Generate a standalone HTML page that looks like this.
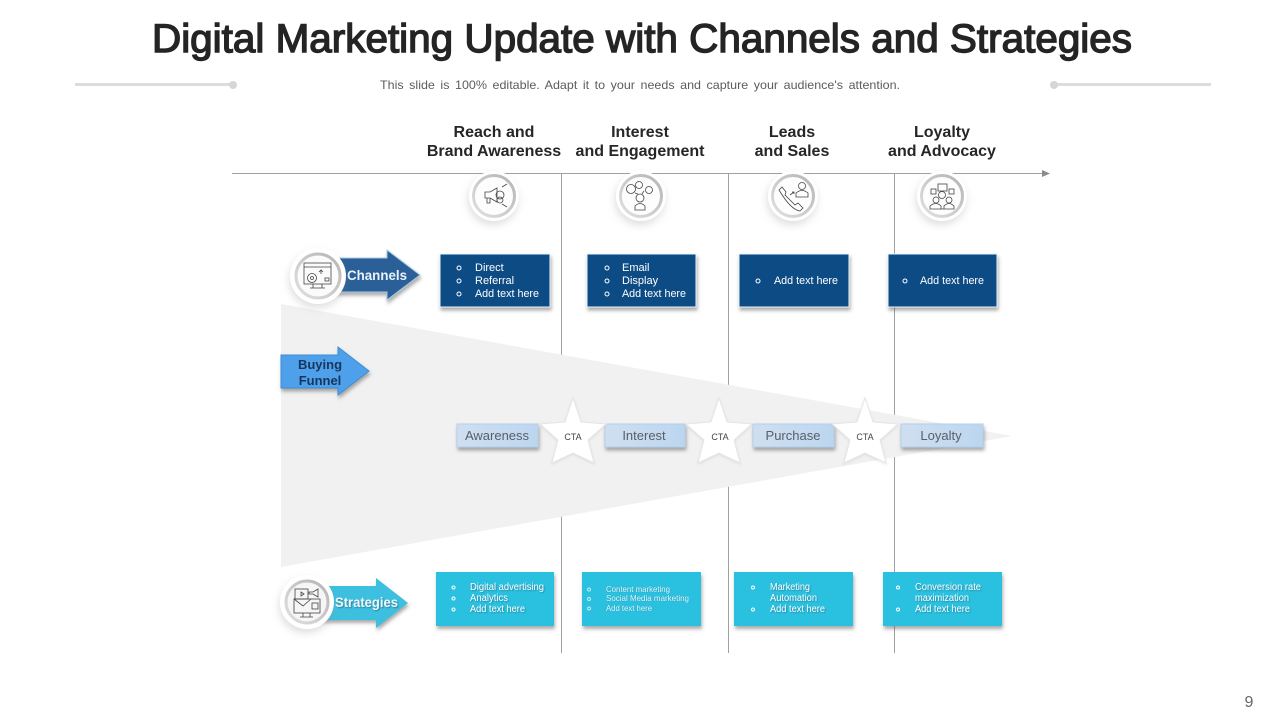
<!DOCTYPE html>
<html><head><meta charset="utf-8"><style>
html,body{margin:0;padding:0;background:#fff}
svg{display:block}
text{font-family:"Liberation Sans",sans-serif}
.h{font-size:16px;font-weight:bold;fill:#262626;text-anchor:middle}
.w{font-size:11px;fill:#fff}
.c{font-size:10px;fill:#fff;filter:drop-shadow(1px 1px 0.6px rgba(40,70,90,.45))}
.s{font-size:8.5px;fill:#e3f6fb;filter:drop-shadow(.6px .6px .5px rgba(40,70,90,.35))}
.l{font-size:13px;fill:#5a5f66;text-anchor:middle}
.cta{font-size:9px;fill:#444;text-anchor:middle}
.i{fill:none;stroke:#444;stroke-width:.8}
</style></head><body>
<svg width="1280" height="720" viewBox="0 0 1280 720" xmlns="http://www.w3.org/2000/svg">
<defs>
<filter id="sh" x="-20%" y="-20%" width="140%" height="150%"><feDropShadow dx="1" dy="3" stdDeviation="1.800" flood-color="#555" flood-opacity=".5"/></filter>
<filter id="cs" x="-40%" y="-40%" width="180%" height="190%"><feDropShadow dx="-1" dy="4" stdDeviation="4" flood-color="#888" flood-opacity=".28"/></filter>
<filter id="ss" x="-20%" y="-20%" width="140%" height="140%"><feDropShadow dx="0" dy="1" stdDeviation="1.200" flood-color="#aaa" flood-opacity=".3"/></filter>
<linearGradient id="lb" x1="0" y1="0" x2="1" y2="0"><stop offset="0" stop-color="#cfdff0"/><stop offset="1" stop-color="#bcd6f0"/></linearGradient>
<linearGradient id="rg" x1="1" y1="0" x2="0" y2="1"><stop offset="0" stop-color="#b5b5b5"/><stop offset="1" stop-color="#e0e0e0"/></linearGradient>
<polygon id="star" points="0,-36 8,-12 33,-10 15,6 21,29 0,19 -21,29 -15,6 -33,-10 -8,-12"/>
</defs>

<text x="642" y="52" font-size="40" fill="#242424" stroke="#242424" stroke-width="1.400" text-anchor="middle" textLength="980" lengthAdjust="spacingAndGlyphs">Digital Marketing Update with Channels and Strategies</text>
<text x="640" y="89" font-size="12" fill="#5c5c5c" text-anchor="middle" word-spacing="2" textLength="520" lengthAdjust="spacingAndGlyphs">This slide is 100% editable. Adapt it to your needs and capture your audience's attention.</text>
<rect x="75" y="83" width="158" height="3" fill="#dcdcdc"/><circle cx="233" cy="85" r="4" fill="#d6d6d6"/>
<rect x="1054" y="83" width="157" height="3" fill="#dcdcdc"/><circle cx="1054" cy="85" r="4" fill="#d6d6d6"/>

<text class="h" x="494" y="137">Reach and</text><text class="h" x="494" y="156">Brand Awareness</text>
<text class="h" x="640" y="137">Interest</text><text class="h" x="640" y="156">and Engagement</text>
<text class="h" x="792" y="137">Leads</text><text class="h" x="792" y="156">and Sales</text>
<text class="h" x="942" y="137">Loyalty</text><text class="h" x="942" y="156">and Advocacy</text>

<line x1="232" y1="173.500" x2="1044" y2="173.500" stroke="#a0a0a0" stroke-width="1"/>
<polygon points="1042,170 1050,173.500 1042,177" fill="#8c8c8c"/>
<g stroke="#a0a0a0" stroke-width="1"><line x1="561.500" y1="173" x2="561.500" y2="653"/><line x1="728.500" y1="173" x2="728.500" y2="653"/><line x1="894.500" y1="173" x2="894.500" y2="653"/></g>

<polygon points="281,304 1012,436 281,567" fill="#f1f1f1"/>

<!-- Top circles -->
<g transform="translate(494,196)"><circle r="25" fill="#fff" filter="url(#cs)"/><circle r="20.500" fill="#fdfdfd" stroke="url(#rg)" stroke-width="3"/>
<g class="i"><path d="M-9,-4 L-4,-4 L3,-8 L3,6 L-4,2 L-9,2Z M-7,2 L-7,7 L-4,7 L-4,2"/><circle cx="6" cy="-1" r="4"/><circle cx="6" cy="4" r="3"/><path d="M8,-9 L13,-12 M8,8 L13,11"/></g></g>
<g transform="translate(641,196)"><circle r="25" fill="#fff" filter="url(#cs)"/><circle r="20.500" fill="#fdfdfd" stroke="url(#rg)" stroke-width="3"/>
<g class="i"><circle cx="-10" cy="-7" r="4.500"/><circle cx="-2" cy="-11" r="3.500"/><circle cx="8" cy="-6" r="3.500"/><circle cx="-1" cy="2" r="4"/><path d="M-6,14 L-6,10 Q-1,5 4,10 L4,14Z"/><path d="M-6,-3 L-3,-2 M3,-5 L1,-2"/></g></g>
<g transform="translate(793,196)"><circle r="25" fill="#fff" filter="url(#cs)"/><circle r="20.500" fill="#fdfdfd" stroke="url(#rg)" stroke-width="3"/>
<g class="i"><path d="M-14,-6 L-11,-9 L-7,-4 L-8,-1 L2,9 L5,7 L10,12 L7,15 Q-2,14 -14,-6Z"/><circle cx="9" cy="-10" r="3.500"/><path d="M3,1 L3,-3 Q9,-8 15,-3 L15,1Z"/><path d="M-3,-1 L1,-4 M-1,-4 L1,-4 L1,-2"/></g></g>
<g transform="translate(942,196)"><circle r="25" fill="#fff" filter="url(#cs)"/><circle r="20.500" fill="#fdfdfd" stroke="url(#rg)" stroke-width="3"/>
<g class="i"><rect x="-11" y="-7" width="5" height="5"/><rect x="7" y="-7" width="5" height="5"/><rect x="-4" y="-12" width="9" height="7"/><circle cx="0" cy="-1" r="3.500"/><circle cx="-6" cy="4" r="3"/><circle cx="7" cy="4" r="3"/><path d="M-12,13 L-12,10 Q-6,5 -1,10 L-1,13Z M2,13 L2,10 Q7,5 12,10 L12,13Z M-12,13 L12,13"/></g></g>

<!-- Channels -->
<polygon points="325,258 387,258 387,250 420,275 387,300 387,292 325,292" fill="#2b6097" stroke="#a9cbe6" stroke-width="1" filter="url(#sh)"/>
<text x="347" y="280" font-size="13.500" font-weight="bold" fill="#eaf2f9" textLength="60" lengthAdjust="spacingAndGlyphs">Channels</text>
<g transform="translate(318,276)"><circle r="28" fill="#fff" filter="url(#cs)"/><circle r="22" fill="#fbfbfb" stroke="url(#rg)" stroke-width="3"/>
<g class="i"><rect x="-14" y="-13" width="27" height="21"/><path d="M-14,-9 L13,-9 M-5,8 L-5,12 M4,8 L4,12 M-8,12 L7,12"/><circle cx="-6" cy="2" r="4.500"/><circle cx="-6" cy="2" r="1.500"/><path d="M3,-2 L3,-6 M1,-4 L3,-6 L5,-4"/><rect x="7" y="2" width="4" height="3"/></g></g>

<!-- Channel boxes -->
<g filter="url(#sh)" fill="#0f4c85" stroke="#e8f4fb" stroke-width="1"><rect x="440" y="254" width="110" height="53"/><rect x="587" y="254" width="109" height="53"/><rect x="739" y="254" width="110" height="53"/><rect x="888" y="254" width="109" height="53"/></g>
<g fill="none" stroke="#fff" stroke-width="1">
<circle cx="459" cy="268" r="2"/><circle cx="459" cy="281" r="2"/><circle cx="459" cy="294" r="2"/>
<circle cx="607" cy="268" r="2"/><circle cx="607" cy="281" r="2"/><circle cx="607" cy="294" r="2"/>
<circle cx="758" cy="281" r="2"/><circle cx="905" cy="281" r="2"/>
</g>
<text class="w" x="475" y="271">Direct</text><text class="w" x="475" y="284">Referral</text><text class="w" x="475" y="297" textLength="64" lengthAdjust="spacingAndGlyphs">Add text here</text>
<text class="w" x="622" y="271">Email</text><text class="w" x="622" y="284">Display</text><text class="w" x="622" y="297" textLength="64" lengthAdjust="spacingAndGlyphs">Add text here</text>
<text class="w" x="774" y="284" textLength="64" lengthAdjust="spacingAndGlyphs">Add text here</text>
<text class="w" x="920" y="284" textLength="64" lengthAdjust="spacingAndGlyphs">Add text here</text>

<!-- Buying Funnel -->
<polygon points="281,355 338,355 338,347 369,371 338,395 338,388 281,388" fill="#50a0ea" stroke="#3f8cd4" stroke-width="1" filter="url(#sh)"/>
<text x="320" y="369" font-size="13" font-weight="bold" fill="#17365d" text-anchor="middle">Buying</text>
<text x="320" y="385" font-size="13" font-weight="bold" fill="#17365d" text-anchor="middle">Funnel</text>

<!-- Stage labels -->
<g filter="url(#sh)" fill="url(#lb)" stroke="#b4d0ec" stroke-width="1"><rect x="457" y="424" width="81" height="23"/><rect x="605" y="424" width="80" height="23"/><rect x="753" y="424" width="81" height="23"/><rect x="901" y="424" width="82" height="23"/></g>
<text class="l" x="497" y="440">Awareness</text><text class="l" x="644" y="440">Interest</text><text class="l" x="793" y="440">Purchase</text><text class="l" x="941" y="440">Loyalty</text>

<!-- Stars -->
<g fill="#fff" stroke="#e6e6e6" stroke-width="1" filter="url(#ss)">
<use href="#star" x="573" y="434"/><use href="#star" x="719" y="434"/><use href="#star" x="865" y="434"/>
</g>
<text class="cta" x="573" y="440">CTA</text><text class="cta" x="720" y="440">CTA</text><text class="cta" x="865" y="440">CTA</text>

<!-- Strategies -->
<polygon points="320,586 376,586 376,578 408,603 376,628 376,620 320,620" fill="#3dbfe0" filter="url(#sh)"/>
<text x="335" y="607" font-size="13.500" font-weight="bold" fill="#eefafd" textLength="63" lengthAdjust="spacingAndGlyphs" style="filter:drop-shadow(1px 1px .6px rgba(40,70,90,.5))">Strategies</text>
<g transform="translate(307,602)"><circle r="27" fill="#fff" filter="url(#cs)"/><circle r="21" fill="#f6f6f6" stroke="url(#rg)" stroke-width="3"/>
<g class="i"><rect x="-12" y="-13" width="13" height="10"/><path d="M-6,-10 L-3,-8 L-6,-6Z"/><path d="M2,-10 L6,-10 L11,-13 L11,-5 L6,-8 L2,-8Z"/><rect x="-13" y="-3" width="26" height="14"/><path d="M-13,-3 L-4,4 L4,-3 M-4,11 L-4,15 M3,11 L3,15 M-7,15 L6,15"/><rect x="5" y="1" width="6" height="6"/></g></g>

<!-- Strategy boxes -->
<g filter="url(#sh)" fill="#29c0e0"><rect x="436" y="572" width="118" height="54"/><rect x="582" y="572" width="119" height="54"/><rect x="734" y="572" width="119" height="54"/><rect x="883" y="572" width="119" height="54"/></g>
<g fill="none" stroke="#fff" stroke-width="1">
<circle cx="453.500" cy="587.500" r="1.500"/><circle cx="453.500" cy="598.500" r="1.500"/><circle cx="453.500" cy="609.500" r="1.500"/>
<circle cx="589" cy="589.500" r="1.500" stroke-opacity=".7"/><circle cx="589" cy="599" r="1.500" stroke-opacity=".7"/><circle cx="589" cy="608.500" r="1.500" stroke-opacity=".7"/>
<circle cx="753" cy="587.500" r="1.500"/><circle cx="753" cy="609.500" r="1.500"/>
<circle cx="898" cy="587.500" r="1.500"/><circle cx="898" cy="609.500" r="1.500"/>
</g>
<text class="c" x="470" y="590" textLength="74" lengthAdjust="spacingAndGlyphs">Digital advertising</text><text class="c" x="470" y="601" textLength="38" lengthAdjust="spacingAndGlyphs">Analytics</text><text class="c" x="470" y="612" textLength="55" lengthAdjust="spacingAndGlyphs">Add text here</text>
<text class="s" x="606" y="592" textLength="64" lengthAdjust="spacingAndGlyphs">Content marketing</text><text class="s" x="606" y="601" textLength="83" lengthAdjust="spacingAndGlyphs">Social Media marketing</text><text class="s" x="606" y="611" textLength="46" lengthAdjust="spacingAndGlyphs">Add text here</text>
<text class="c" x="770" y="590" textLength="40" lengthAdjust="spacingAndGlyphs">Marketing</text><text class="c" x="770" y="601" textLength="47" lengthAdjust="spacingAndGlyphs">Automation</text><text class="c" x="770" y="612" textLength="55" lengthAdjust="spacingAndGlyphs">Add text here</text>
<text class="c" x="915" y="590" textLength="66" lengthAdjust="spacingAndGlyphs">Conversion rate</text><text class="c" x="915" y="601" textLength="54" lengthAdjust="spacingAndGlyphs">maximization</text><text class="c" x="915" y="612" textLength="55" lengthAdjust="spacingAndGlyphs">Add text here</text>

<text x="1249" y="707" font-size="16" fill="#666" text-anchor="middle">9</text>
</svg>
</body></html>
